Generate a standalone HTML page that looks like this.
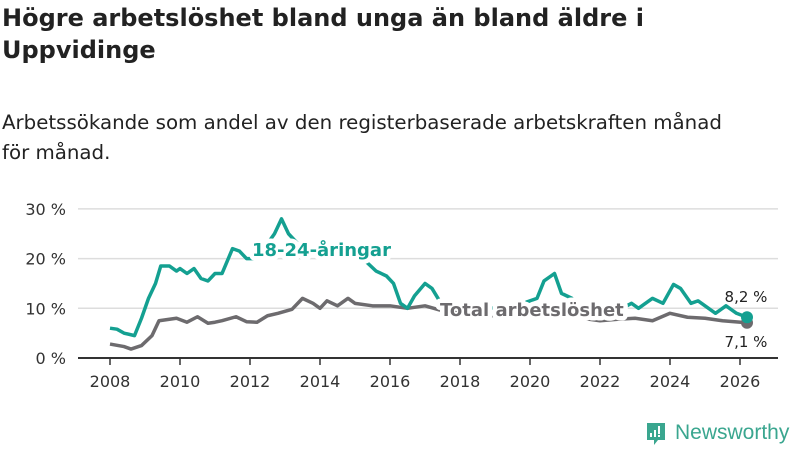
<!DOCTYPE html>
<html><head><meta charset="utf-8"><style>
body{margin:0;width:800px;height:450px;background:#fff;font-family:"DejaVu Sans","Liberation Sans",sans-serif;color:#222;overflow:hidden;position:relative}
h1{position:absolute;left:2px;top:2px;margin:0;font-size:24px;line-height:32px;font-weight:bold;width:720px}
.sub{position:absolute;left:2px;top:108px;margin:0;font-size:19.8px;line-height:30px;width:735px;white-space:normal}
svg{position:absolute;left:0;top:0}
</style></head><body>
<h1>Högre arbetslöshet bland unga än bland äldre i Uppvidinge</h1>
<p class="sub">Arbetssökande som andel av den registerbaserade arbetskraften månad<br>för månad.</p>
<svg id="c" width="800" height="450"></svg>
<div style="position:absolute;left:645px;top:420px;height:26px;display:flex;align-items:center;color:#3aa68f;font-size:21px;font-family:'Liberation Sans',sans-serif">
<svg width="22" height="25" style="position:relative;margin-right:8px"><path d="M2 2h18v17h-7l-4 5v-5H2z" fill="#3aa68f"/><rect x="5" y="12" width="2" height="4" fill="#fff"/><rect x="9" y="9" width="2" height="7" fill="#fff"/><rect x="13" y="5" width="2" height="8" fill="#fff"/><rect x="13" y="14" width="2" height="2" fill="#fff"/></svg>Newsworthy</div>
<script>
const yTicks=[0,10,20,30];
const xTicks=[2008,2010,2012,2014,2016,2018,2020,2022,2024,2026];
const youthT=[2008.0,2008.2,2008.4,2008.7,2008.9,2009.1,2009.3,2009.45,2009.7,2009.9,2010.0,2010.2,2010.4,2010.6,2010.8,2011.0,2011.2,2011.5,2011.7,2011.9,2012.1,2012.3,2012.5,2012.7,2012.9,2013.1,2013.5,2014.0,2014.5,2015.0,2015.3,2015.6,2015.9,2016.1,2016.3,2016.5,2016.7,2017.0,2017.2,2017.5,2018.0,2019.0,2019.8,2020.2,2020.4,2020.7,2020.9,2021.2,2021.5,2022.0,2022.5,2022.9,2023.1,2023.5,2023.8,2024.1,2024.3,2024.6,2024.8,2025.1,2025.3,2025.6,2025.9,2026.2];
const youthV=[6,5.8,5,4.5,8,12,15,18.5,18.5,17.5,18,17,18,16,15.5,17,17,22,21.5,20,20,22,23,25,28,25,22,21.5,21,20,19.5,17.5,16.5,15,11,10,12.5,15,14,10.5,10.5,10,11,12,15.5,17,13,12,10,9.5,9.5,11,10,12,11,14.8,14,11,11.5,10,9,10.5,9,8.2];
const totT=[2008.0,2008.4,2008.6,2008.9,2009.2,2009.4,2009.7,2009.9,2010.2,2010.5,2010.8,2011.0,2011.2,2011.6,2011.9,2012.2,2012.5,2012.8,2013.2,2013.5,2013.8,2014.0,2014.2,2014.5,2014.8,2015.0,2015.5,2016.0,2016.5,2017.0,2017.5,2018.0,2019.0,2020.0,2021.0,2022.0,2022.5,2023.0,2023.5,2024.0,2024.5,2025.0,2025.5,2026.2];
const totV=[2.8,2.3,1.8,2.5,4.5,7.5,7.8,8,7.2,8.3,7,7.2,7.5,8.3,7.3,7.2,8.5,9,9.8,12,11,10,11.5,10.5,12,11,10.5,10.5,10,10.5,9.5,9,8.5,8.5,8.5,7.5,7.8,8,7.5,9,8.2,8,7.5,7.1];
const NS='http://www.w3.org/2000/svg',svg=document.getElementById('c');
const x=t=>110+(t-2008)*35, y=v=>358-v*4.97;
function mk(tag,a,p){const e=document.createElementNS(NS,tag);for(const k in a)e.setAttribute(k,a[k]);(p||svg).appendChild(e);return e;}
yTicks.forEach(v=>{
 if(v>0){const g=mk('line',{x1:78,x2:778,y1:y(v),y2:y(v),stroke:'#ddd','stroke-width':1.5});
 
 }
 const t=mk('text',{x:66,y:y(v)+6,'text-anchor':'end','font-size':16,fill:'#333'});t.textContent=v+' %';
 
 
});
const ax=mk('line',{x1:78,x2:778,y1:358,y2:358,stroke:'#333','stroke-width':2});


xTicks.forEach(v=>{mk('line',{x1:x(v),x2:x(v),y1:358,y2:365,stroke:'#333','stroke-width':1.5});
 const t=mk('text',{x:x(v),y:387,'text-anchor':'middle','font-size':16,fill:'#333'});t.textContent=v;
 
 });
function line(T,V,c,n){const p=mk('path',{d:T.map((t,i)=>(i?'L':'M')+x(t)+','+y(V[i])).join(''),fill:'none',stroke:c,'stroke-width':3.5,'stroke-linejoin':'round'});
 
 
 const d=mk('circle',{cx:x(T[T.length-1]),cy:y(V[V.length-1]),r:6,fill:c});
 
 }
line(totT,totV,'#6d6b6e','total-line');
line(youthT,youthV,'#14a091','youth-line');
function lab(tx,xx,yy,c,n,w,anchor){const t=mk('text',{x:xx,y:yy,'font-size':w?18:15,'font-weight':w?'bold':'normal',fill:c,stroke:'#fff','stroke-width':w?9:4,'paint-order':'stroke','stroke-linejoin':'round','text-anchor':anchor||'start'});t.textContent=tx;
 
 }
lab('18-24-åringar',252,256,'#14a091','youth-label',1);
lab('Total arbetslöshet',440,316,'#6d6b6e','total-label',1);
lab('8,2 %',746,302,'#222','youth-end-value',0,'middle');
lab('7,1 %',746,347,'#222','total-end-value',0,'middle');
</script>
</body></html>
